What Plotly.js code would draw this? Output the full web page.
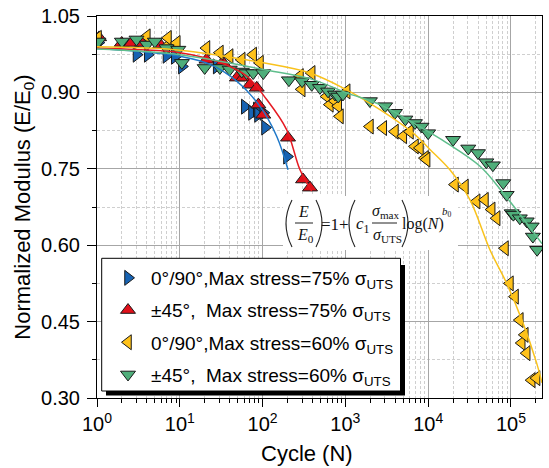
<!DOCTYPE html>
<html>
<head>
<meta charset="utf-8">
<script src="https://cdn.plot.ly/plotly-3.0.1.min.js"></script>
<style>html,body{margin:0;padding:0;background:#fff;}</style>
</head>
<body>
<div id="chart" style="width:549px;height:468px;"></div>
<script>
// ---------- data ----------
var legendNames = [
  "0°/90°,Max stress=75% σ<sub>UTS</sub>",
  "±45°,\u00a0\u00a0Max stress=75% σ<sub>UTS</sub>",
  "0°/90°,Max stress=60% σ<sub>UTS</sub>",
  "±45°,\u00a0\u00a0Max stress=60% σ<sub>UTS</sub>"
];

// 0°/90°, 75%
var blueN = [1.04, 3.0, 4.1, 6.9, 8.7, 10.6, 27.9, 61, 74.5, 85, 88, 102, 107, 197];
var blueE = [0.998, 0.974, 0.974, 0.972, 0.970, 0.951, 0.951, 0.872, 0.860, 0.866, 0.856, 0.860, 0.831, 0.774];
// ±45°, 75%
var redN = [1.06, 1.99, 2.6, 3.5, 5.8, 7.6, 21, 33, 49, 58, 70, 85, 89, 102, 203, 308, 374];
var redE = [1.008, 0.997, 0.997, 0.997, 0.994, 0.991, 0.964, 0.959, 0.929, 0.929, 0.915, 0.909, 0.876, 0.856, 0.811, 0.729, 0.713];
// 0°/90°, 60%
var yelN = [1.03, 4.0, 6.9, 7.2, 9.2, 21, 30.5, 40, 56, 77, 93, 283, 297, 392, 594, 650, 749, 820, 860, 1037,
            1980, 2870, 3970, 5010, 6030, 6930, 7960, 9150, 9580, 21100, 27800, 38500, 48500, 58500, 67200,
            84700, 97200, 112000, 128000, 135000, 147000, 155000, 178000, 204000];
var yelE = [1.007, 1.010, 0.990, 1.007, 0.997, 0.987, 0.978, 0.971, 0.964, 0.974, 0.958, 0.932, 0.906, 0.938, 0.892, 0.876, 0.883, 0.873, 0.853, 0.902,
            0.833, 0.830, 0.823, 0.814, 0.823, 0.794, 0.791, 0.771, 0.768, 0.719, 0.715, 0.686, 0.689, 0.670, 0.653,
            0.594, 0.525, 0.499, 0.453, 0.408, 0.424, 0.388, 0.335, 0.339];
// ±45°, 60%
var grnN = [1.04, 2.0, 3.0, 4.0, 5.0, 6.9, 9.6, 10.6, 20, 30.5, 40, 56, 64, 77, 102, 208, 300, 392, 493, 618, 749, 820, 935,
            1980, 3020, 3970, 5300, 6930, 8300, 10000, 20000, 30500, 40000, 50400, 60500, 80700, 88700, 102000, 107000,
            128000, 155000, 178000, 184000, 207000];
var grnE = [1.0, 1.0, 1.004, 0.994, 1.0, 0.987, 0.984, 0.958, 0.948, 0.948, 0.945, 0.941, 0.938, 0.938, 0.938, 0.924, 0.922, 0.915, 0.909, 0.902, 0.896, 0.892, 0.896,
            0.883, 0.873, 0.860, 0.847, 0.840, 0.833, 0.820, 0.807, 0.790, 0.781, 0.763, 0.757, 0.722, 0.699, 0.663, 0.660,
            0.653, 0.647, 0.637, 0.617, 0.591];

// fitted curves
var blueFitN = [1, 3, 10, 23.2, 48.7, 92.5, 148, 203];
var blueFitE = [0.9855, 0.981, 0.971, 0.955, 0.922, 0.873, 0.814, 0.748];
var redFitN = [1, 3, 10, 27.9, 64.3, 112, 195, 283, 392];
var redFitE = [0.987, 0.984, 0.978, 0.961, 0.932, 0.886, 0.827, 0.748, 0.706];
var yelFitN = [1, 10, 102, 374, 1037, 2617, 6600, 10500, 18300, 32000, 55700, 88700, 140000, 204000, 237000];
var yelFitE = [0.9895, 0.983, 0.958, 0.938, 0.905, 0.866, 0.820, 0.788, 0.748, 0.689, 0.591, 0.525, 0.447, 0.369, 0.33];
var grnFitN = [1, 10, 102, 374, 1037, 2617, 6600, 16700, 42300, 80000, 237000];
var grnFitE = [0.985, 0.974, 0.945, 0.927, 0.899, 0.876, 0.840, 0.801, 0.755, 0.703, 0.603];

var xTickVals = [1, 10, 100, 1000, 10000, 100000];
var xTickText = ["10<sup>0</sup>", "10<sup>1</sup>", "10<sup>2</sup>", "10<sup>3</sup>", "10<sup>4</sup>", "10<sup>5</sup>"];

// ---------- styling ----------
var mkLine = {color: '#1a1a1a', width: 1};
var MS = 13;
function pts(x, y, sym, col, name, grp) {
  return {x: x, y: y, type: 'scatter', mode: 'markers', name: name, legendgroup: grp,
          marker: {symbol: sym, size: MS, color: col, line: mkLine}, cliponaxis: true};
}
function fit(x, y, col) {
  return {x: x, y: y, type: 'scatter', mode: 'lines', showlegend: false, hoverinfo: 'skip',
          line: {color: col, width: 1.5, shape: 'spline', smoothing: 1}};
}

var traces = [
  pts(blueN, blueE, 'triangle-right', '#1763b3', legendNames[0], 'g1'),
  pts(redN, redE, 'triangle-up', '#e0101a', legendNames[1], 'g2'),
  pts(yelN, yelE, 'triangle-left', '#ffc21a', legendNames[2], 'g3'),
  pts(grnN, grnE, 'triangle-down', '#4fae7a', legendNames[3], 'g4'),
  fit(blueFitN, blueFitE, '#1f78c8'),
  fit(redFitN, redFitE, '#e51a22'),
  fit(yelFitN, yelFitE, '#f9c21c'),
  fit(grnFitN, grnFitE, '#5fbe8c')
];

// pixel -> paper helpers for layout decorations
var L = 97, R = 542, T = 16, B = 398;
function px(v) { return (v - L) / (R - L); }
function py(v) { return (B - v) / (B - T); }

var serif = 'Liberation Serif, Times New Roman, serif';
var sans = 'Liberation Sans, Arial, sans-serif';
function ann(x, y, text, size, extra) {
  var a = {xref: 'paper', yref: 'paper', x: px(x), y: py(y), text: text, showarrow: false,
           xanchor: 'center', yanchor: 'middle', font: {family: serif, size: size, color: '#111'}};
  for (var k in extra) a[k] = extra[k];
  return a;
}
function paren(xTop, xCtrl, yTop, yBot) {
  var yMid = (yTop + yBot) / 2;
  return {type: 'path', xref: 'paper', yref: 'paper', layer: 'above',
          path: 'M' + px(xTop) + ',' + py(yTop) + ' Q' + px(xCtrl) + ',' + py(yMid) + ' ' + px(xTop) + ',' + py(yBot),
          line: {color: '#222', width: 1.1}};
}
function hline(x0, x1, y) {
  return {type: 'line', xref: 'paper', yref: 'paper', layer: 'above',
          x0: px(x0), x1: px(x1), y0: py(y), y1: py(y), line: {color: '#222', width: 1}};
}

var shapes = [
  // equation background
  {type: 'rect', xref: 'paper', yref: 'paper', layer: 'above', x0: px(283), x1: px(458), y0: py(250), y1: py(196),
   fillcolor: '#ffffff', line: {width: 0}},
  paren(292, 280, 200, 247), paren(316, 328, 200, 247),
  paren(355, 343, 200, 247), paren(402, 414, 200, 247),
  hline(295, 313, 223), hline(372, 397, 223),
  // legend shadow and box
  {type: 'rect', xref: 'paper', yref: 'paper', layer: 'above', x0: px(106), x1: px(405), y0: py(395.5), y1: py(265),
   fillcolor: '#000000', line: {width: 0}},
  {type: 'rect', xref: 'paper', yref: 'paper', layer: 'above', x0: px(101.7), x1: px(400.5), y0: py(391), y1: py(258.3),
   fillcolor: '#ffffff', line: {color: '#000', width: 1}}
];

var annotations = [
  ann(303, 211, '<i>E</i>', 16),
  ann(305, 235, '<i>E</i><sub>0</sub>', 16),
  ann(335, 224, '=1+', 17),
  ann(363, 225, '<i>c</i><sub>1</sub>', 17),
  ann(386, 211, '<i>σ</i><sub>max</sub>', 16),
  ann(387, 235, '<i>σ</i><sub>UTS</sub>', 16),
  ann(423, 224, 'log(<i>N</i>)', 16),
  ann(447, 212, '<i>b</i><sub>0</sub>', 11, {borderpad: 0}),
  // x-axis title
  {xref: 'paper', yref: 'paper', x: px(307), y: py(453), text: 'Cycle (N)', showarrow: false, borderpad: 0,
   xanchor: 'center', yanchor: 'middle', font: {family: sans, size: 22, color: '#000'}}
];

var layout = {
  width: 549, height: 468,
  margin: {l: L, r: 549 - R, t: T, b: 468 - B, pad: 0},
  paper_bgcolor: '#ffffff', plot_bgcolor: '#ffffff',
  font: {family: sans, color: '#000'},
  showlegend: true,
  legend: {x: px(105), y: py(259), xanchor: 'left', yanchor: 'top', bgcolor: 'rgba(0,0,0,0)',
           borderwidth: 0, itemwidth: 36, tracegroupgap: 4.5, traceorder: 'grouped',
           font: {family: sans, size: 19, color: '#000'}},
  xaxis: {
    type: 'log', range: [0, 5.375], tickmode: 'array', tickvals: xTickVals, ticktext: xTickText,
    ticks: 'outside', ticklen: 8, tickwidth: 1, tickcolor: '#000',
    showline: true, linecolor: '#000', linewidth: 1, mirror: true,
    showgrid: true, gridcolor: '#a6a6a6', gridwidth: 1, zeroline: false,
    tickfont: {family: sans, size: 20, color: '#000'},
    minor: {dtick: 'D1', ticks: 'outside', ticklen: 4, tickcolor: '#000', showgrid: true,
            gridcolor: '#cfcfcf', griddash: '3px,2px', gridwidth: 1}
  },
  yaxis: {
    range: [0.30, 1.05], tick0: 0.30, dtick: 0.15, tickformat: '.2f',
    ticks: 'outside', ticklen: 9, tickwidth: 1, tickcolor: '#000', ticklabelstandoff: 3,
    showline: true, linecolor: '#000', linewidth: 1, mirror: true,
    showgrid: true, gridcolor: '#a6a6a6', gridwidth: 1, zeroline: false,
    tickfont: {family: sans, size: 20, color: '#000'},
    minor: {dtick: 0.075, ticks: 'outside', ticklen: 4, tickcolor: '#000', showgrid: true,
            gridcolor: '#cfcfcf', griddash: '3px,2px', gridwidth: 1},
    title: {text: 'Normalized Modulus (E/E<sub>0</sub>)', font: {family: sans, size: 22, color: '#000'}, standoff: 4}
  },
  shapes: shapes,
  annotations: annotations
};

Plotly.newPlot('chart', traces, layout, {displayModeBar: false, staticPlot: true});
</script>
</body>
</html>
